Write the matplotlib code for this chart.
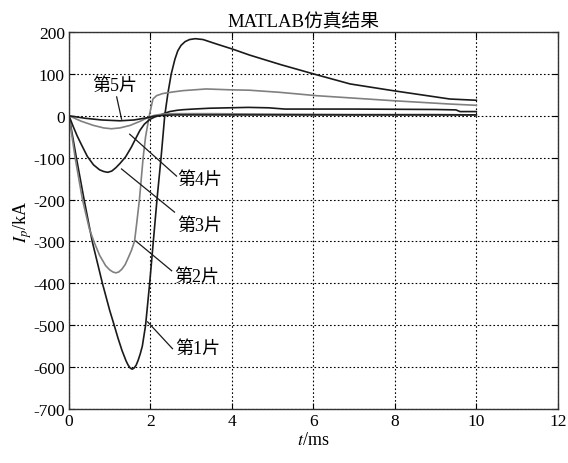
import matplotlib
matplotlib.use("Agg")
import matplotlib.pyplot as plt

# ---- data ----
t1 = [0, 0.18, 0.37, 0.57, 0.82, 1.0, 1.1, 1.2, 1.3, 1.4, 1.45, 1.5, 1.55, 1.6, 1.65, 1.7, 1.75, 1.8, 1.88, 1.98,
      2.07, 2.16, 2.26, 2.35, 2.43, 2.51, 2.6, 2.67, 2.75, 2.85, 2.96, 3.1, 3.29, 3.6, 4.02, 4.43, 5.2, 6.0, 6.9,
      7.95, 9.35, 10.0]
v1 = [0, -100, -200, -300, -400, -465, -497, -530, -560, -585, -595, -602, -605, -602, -595, -583, -568, -550, -500, -400,
      -300, -200, -100, 0, 55, 100, 135, 155, 168, 177, 182, 184, 182, 172, 159, 145, 122, 100, 76,
      60, 40, 37]

t2 = [0, 0.15, 0.33, 0.5, 0.61, 0.75, 0.9, 1.0, 1.08, 1.15, 1.22, 1.3, 1.38, 1.45, 1.53, 1.61, 1.67, 1.73, 1.82,
      1.88, 1.97, 2.06, 2.15, 2.3, 2.56, 2.8, 3.37, 3.94, 4.43, 5.17, 6.07, 7.95, 9.35, 10.0]
v2 = [0, -100, -200, -270, -300, -333, -358, -368, -373, -375, -373, -366, -355, -340, -322, -299, -250, -199, -100,
      -50, 0, 40, 48, 53, 57, 60, 64, 62, 61, 56, 48, 36, 28, 25]

t3 = [0, 0.1, 0.2, 0.3, 0.45, 0.6, 0.75, 0.85, 0.95, 1.05, 1.15, 1.25, 1.39, 1.53, 1.65, 1.74, 1.85, 1.98, 2.1,
      2.23, 2.35, 2.47, 2.65, 2.8, 3.05, 3.45, 4.4, 4.9, 5.3, 7.0, 9.0, 9.5, 9.6, 10.0]
v3 = [0, -25, -48, -68, -97, -117, -129, -133, -135, -132, -124, -114, -98, -75, -52, -35, -20, -9, -3,
      1, 6, 10, 13, 14.5, 16, 18, 20, 19, 16, 16, 15, 14, 10, 10]

t4 = [0, 0.3, 0.6, 0.85, 1.04, 1.25, 1.5, 1.75, 1.9, 2.0, 2.1, 2.3, 2.6, 3.5, 5.0, 7.0, 9.0, 10.0]
v4 = [0, -13, -23, -29, -31, -29, -23, -13, -6, -2, 1, 4, 5, 5, 4, 3, 3, 2]

t5 = [0, 0.4, 0.8, 1.25, 1.6, 1.9, 2.1, 2.3, 2.6, 3.5, 5.0, 7.0, 9.0, 10.0]
v5 = [0, -6, -10, -12, -10, -5, -1, 1, 2, 2, 2, 2, 2, 2]

labels = ["第1片", "第2片", "第3片", "第4片", "第5片"]
label_xy = [(3.16, -555), (3.13, -383), (3.21, -261), (3.21, -153), (1.12, 73)]
leader_from = [(1.93, -492), (1.64, -299), (1.29, -127), (1.49, -44), (1.29, -8)]
leader_to = [(2.54, -556), (2.52, -370), (2.59, -230), (2.64, -144), (1.17, 45)]

xticks = [0, 2, 4, 6, 8, 10, 12]
yticks = [200, 100, 0, -100, -200, -300, -400, -500, -600, -700]
title = "MATLAB仿真结果"

# ---- style ----
plt.rcParams['font.family'] = ['Liberation Serif', 'Noto Sans CJK SC']
plt.rcParams['mathtext.fontset'] = 'stix'
plt.rcParams['axes.unicode_minus'] = False

fig = plt.figure(figsize=(5.68, 4.64), dpi=100)
ax = fig.add_axes([0.1215, 0.1164, 0.8605, 0.8125])

black = '#1a1a1a'
gray = '#808080'
series = [(t1, v1, black), (t2, v2, gray), (t3, v3, black), (t4, v4, gray), (t5, v5, black)]
for t, v, c in series:
    ax.plot(t, v, color=c, lw=1.2, solid_joinstyle='round')

for lab, xy, p0, p1 in zip(labels, label_xy, leader_from, leader_to):
    ax.plot([p0[0], p1[0]], [p0[1], p1[1]], color=black, lw=0.9)
    ax.text(xy[0], xy[1], lab, fontsize=13, ha='center', va='center', color='black')

ax.set_xlim(0, 12)
ax.set_ylim(-700, 200)
ax.set_xticks(xticks)
ax.set_yticks(yticks)
ax.set_xticklabels([str(x) for x in xticks])
ax.set_yticklabels([str(y) for y in yticks])
ax.grid(True, color='black', linestyle=(0, (1.5, 2.0)), linewidth=0.8)
ax.tick_params(direction='in', length=4, width=0.8, labelsize=12.5, top=True, right=True, pad=3)
for s in ax.spines.values():
    s.set_linewidth(1.0)
    s.set_color('#333333')

ax.set_title(title, fontsize=13.5, pad=4, x=0.48)
ax.set_xlabel(r'$t$/ms', fontsize=13, labelpad=1)
ax.set_ylabel(r'$I_p$/kA', fontsize=13, labelpad=-1)

fig.savefig('out.png', dpi=100)
